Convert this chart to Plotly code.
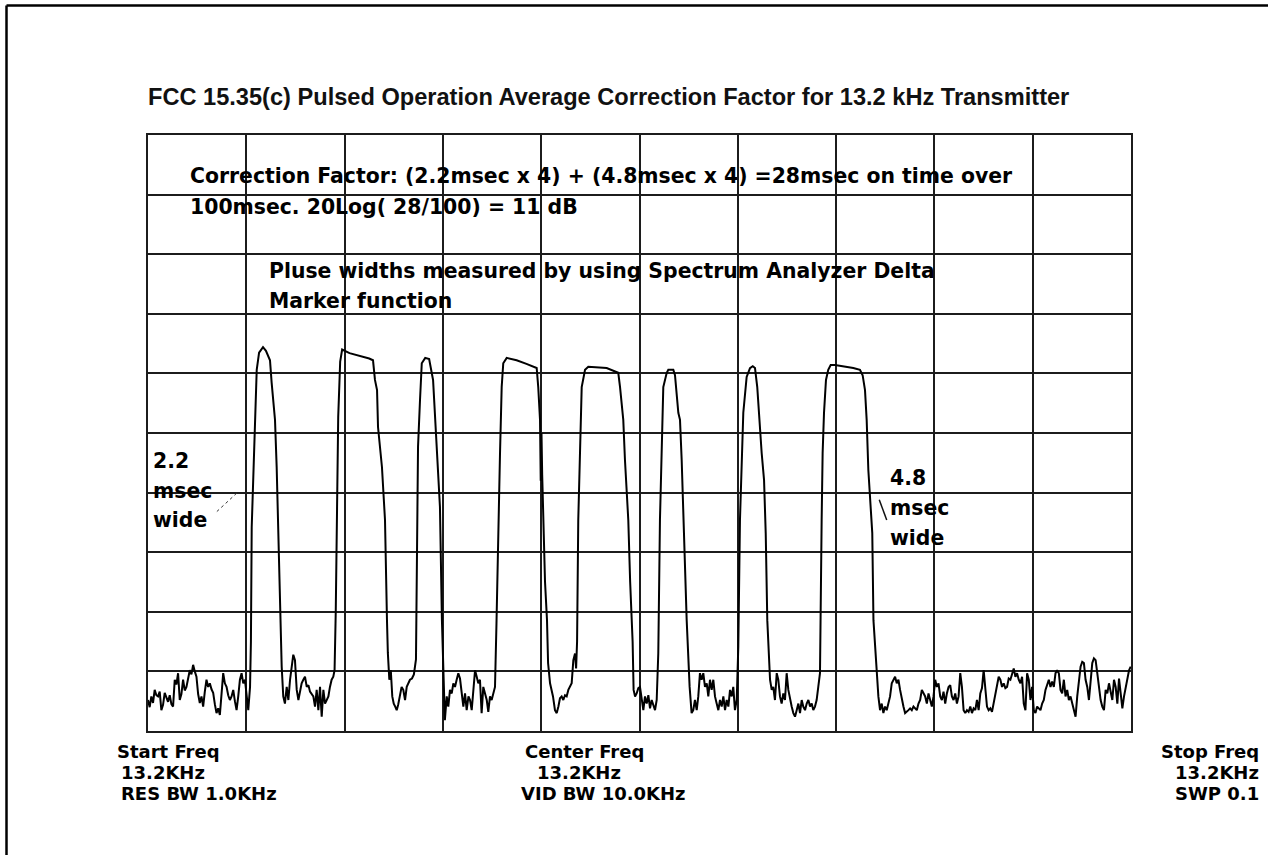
import plotly.graph_objects as go

# ---------------- data (x in msec over a 100 ms sweep, y in screen divisions) ----------------
noise_a_ms = [0.0, 0.17, 0.34, 0.51, 0.68, 0.85, 1.02, 1.19, 1.36, 1.53, 1.7, 1.87, 2.04, 2.21, 2.38, 2.55,
              2.72, 2.89, 3.06, 3.23, 3.4, 3.57, 3.74, 3.91, 4.08, 4.25, 4.42, 4.59, 4.76, 4.93, 5.1, 5.27,
              5.44, 5.61, 5.78, 5.95, 6.12, 6.29, 6.46, 6.63, 6.8, 6.97, 7.14, 7.31, 7.48, 7.65, 7.82, 7.99,
              8.16, 8.33, 8.5, 8.67, 8.84, 9.01, 9.18, 9.35, 9.52, 9.69, 9.86, 10.03, 10.2, 10.38]
noise_a_lvl = [0.52, 0.40, 0.58, 0.47, 0.69, 0.60, 0.58, 0.66, 0.35, 0.44, 0.64, 0.55, 0.49, 0.60, 0.45, 0.41,
               0.86, 0.78, 0.97, 0.52, 0.62, 0.86, 0.68, 0.74, 0.88, 1.02, 0.95, 1.11, 1.00, 0.91, 0.62, 0.47,
               0.58, 0.41, 0.66, 0.86, 0.74, 0.80, 0.70, 0.64, 0.45, 0.30, 0.38, 0.27, 0.62, 0.97, 0.80, 0.74,
               0.60, 0.52, 0.58, 0.69, 0.50, 0.35, 0.58, 0.86, 0.97, 0.80, 0.86, 0.62, 0.35, 0.74]

pulse1_ms = [10.47, 10.55, 10.88, 11.06, 11.3, 11.7, 12.0, 12.41, 12.58, 12.92, 13.09, 13.22, 13.43, 13.53]
pulse1_lvl = [1.50, 3.42, 5.34, 6.06, 6.35, 6.44, 6.38, 6.22, 5.84, 5.22, 4.43, 3.54, 1.86, 1.14]

noise_b_ms = [13.6, 13.76, 13.93, 14.11, 14.28, 14.45, 14.62, 14.78, 14.95, 15.13, 15.3, 15.46, 15.63, 15.8,
              15.97, 16.15, 16.32, 16.48, 16.65, 16.82, 16.99, 17.16, 17.33, 17.5, 17.67, 17.84, 18.01, 18.18,
              18.35, 18.51, 18.68, 18.85, 18.98]
noise_b_lvl = [1.08, 0.58, 0.46, 0.74, 0.52, 0.86, 1.14, 1.28, 1.19, 0.69, 0.52, 0.69, 0.80, 0.86,
               0.91, 0.74, 0.77, 0.66, 0.62, 0.58, 0.41, 0.69, 0.35, 0.74, 0.24, 0.69, 0.46, 0.52,
               0.58, 0.74, 0.86, 0.91, 1.02]

pulse2_ms = [19.1, 19.2, 19.35, 19.55, 19.75, 20.5, 21.5, 22.5, 22.89, 23.09, 23.3, 23.4, 23.8, 24.11, 24.31, 24.4]
pulse2_lvl = [2.00, 3.54, 5.27, 6.20, 6.40, 6.34, 6.30, 6.25, 6.22, 5.89, 5.72, 5.10, 4.43, 3.54, 1.86, 1.31]

noise_c_ms = [24.55, 24.7, 24.85, 25.0, 25.15, 25.3, 25.45, 25.6, 25.8, 25.97, 26.15, 26.32, 26.5, 26.65, 26.85, 27.05]
noise_c_lvl = [0.86, 1.02, 0.58, 0.46, 0.41, 0.35, 0.44, 0.58, 0.74, 0.69, 0.52, 0.74, 0.80, 0.86, 0.88, 0.95]

pulse3_ms = [27.26, 27.36, 27.47, 27.67, 27.85, 28.2, 28.6, 29.0, 29.2, 29.4, 29.7, 29.9, 30.05, 30.2]
pulse3_lvl = [1.20, 3.00, 4.77, 5.55, 6.17, 6.26, 6.24, 5.89, 5.22, 4.66, 3.76, 1.86, 0.90, 0.18]

noise_d_ms = [30.39, 30.55, 30.72, 30.9, 31.06, 31.23, 31.4, 31.57, 31.74, 31.9, 32.08, 32.25, 32.42, 32.6, 32.76,
              32.93, 33.09, 33.27, 33.44, 33.6, 33.77, 33.94, 34.11, 34.28, 34.46, 34.62, 34.79, 34.96, 35.13, 35.3]
noise_d_lvl = [0.58, 0.41, 0.69, 0.63, 0.80, 0.74, 0.86, 0.97, 0.88, 0.66, 0.41, 0.63, 0.35, 0.58, 0.52,
               0.35, 0.74, 1.02, 0.91, 0.80, 0.86, 0.30, 0.74, 0.63, 0.52, 0.32, 0.58, 0.52, 0.66, 0.74]

pulse4_ms = [35.45, 35.64, 35.81, 35.98, 36.14, 36.49, 37.5, 38.5, 39.54, 39.7, 39.88, 39.95, 40.03, 40.1,
             40.18, 40.39, 40.59, 40.7, 40.9, 41.2]
pulse4_lvl = [1.80, 3.54, 4.66, 5.77, 6.17, 6.26, 6.22, 6.16, 6.09, 5.77, 5.22, 4.20, 5.00, 4.30,
              3.76, 2.50, 1.86, 1.14, 0.80, 0.58]

noise_e_ms = [41.4, 41.58, 41.75, 41.91, 42.08, 42.25, 42.42, 42.59, 42.76, 42.93, 43.1, 43.27, 43.44, 43.55, 43.65]
noise_e_lvl = [0.35, 0.30, 0.41, 0.55, 0.58, 0.52, 0.60, 0.58, 0.69, 0.74, 0.80, 1.19, 1.30, 1.05, 1.50]

pulse5_ms = [43.77, 43.95, 44.12, 44.46, 44.79, 46.66, 47.84, 48.02, 48.35, 48.52, 48.86, 49.05, 49.2, 49.3, 49.4]
pulse5_lvl = [3.54, 4.66, 5.77, 6.06, 6.11, 6.09, 6.01, 5.77, 5.22, 4.55, 3.54, 2.50, 1.86, 1.50, 0.69]

noise_f_ms = [49.55, 49.71, 49.88, 50.05, 50.22, 50.39, 50.56, 50.73, 50.9, 51.07, 51.24, 51.4, 51.58, 51.75, 51.91]
noise_f_lvl = [0.58, 0.63, 0.72, 0.74, 0.52, 0.35, 0.58, 0.46, 0.60, 0.38, 0.52, 0.44, 0.35, 0.52, 1.30]

pulse6_ms = [52.08, 52.26, 52.42, 52.77, 52.93, 53.44, 53.61, 53.95, 54.12, 54.29, 54.46, 54.8, 55.1]
pulse6_lvl = [3.54, 4.66, 5.77, 6.01, 6.06, 6.06, 5.97, 5.34, 5.22, 4.55, 3.54, 1.86, 0.74]

noise_g_ms = [55.3, 55.47, 55.64, 55.82, 55.98, 56.15, 56.32, 56.49, 56.66, 56.84, 57.0, 57.17, 57.34, 57.51,
              57.68, 57.85, 58.02, 58.19, 58.36, 58.53, 58.7, 58.87, 59.04, 59.21, 59.38, 59.54, 59.71, 59.89, 60.05]
noise_g_lvl = [0.30, 0.35, 0.52, 0.35, 0.58, 0.97, 0.86, 0.97, 0.74, 0.80, 0.58, 0.86, 0.69, 0.86,
               0.58, 0.46, 0.35, 0.52, 0.41, 0.58, 0.35, 0.52, 0.41, 0.69, 0.58, 0.74, 0.35, 0.52, 1.41]

pulse7_ms = [60.22, 60.4, 60.56, 60.9, 61.24, 61.52, 61.75, 61.98, 62.19, 62.43, 62.67, 62.84, 63.0, 63.1, 63.28]
pulse7_lvl = [3.54, 4.66, 5.34, 5.94, 6.09, 6.12, 6.09, 5.77, 5.22, 4.66, 4.21, 3.32, 1.86, 1.48, 0.86]

noise_h_ms = [63.45, 63.61, 63.78, 63.96, 64.12, 64.29, 64.46, 64.63, 64.8, 64.97, 65.14, 65.31, 65.48, 65.65,
              65.82, 65.99, 66.16, 66.33, 66.5, 66.66, 66.84, 67.01, 67.18, 67.35, 67.52, 67.68, 67.85, 68.02,
              68.19, 68.36]
noise_h_lvl = [0.69, 0.74, 0.52, 0.97, 0.86, 0.58, 0.46, 0.63, 0.52, 0.97, 0.69, 0.52, 0.41, 0.30,
               0.24, 0.35, 0.46, 0.30, 0.52, 0.41, 0.35, 0.46, 0.52, 0.41, 0.46, 0.35, 0.41, 0.52,
               0.74, 0.97]

pulse8_ms = [68.53, 68.63, 68.77, 68.97, 69.2, 69.45, 69.89, 71.08, 71.75, 72.43, 72.7, 72.94, 73.11, 73.28,
             73.52, 73.68, 73.8, 73.95]
pulse8_lvl = [3.54, 4.66, 5.34, 5.89, 6.06, 6.14, 6.14, 6.11, 6.09, 6.06, 5.97, 5.72, 5.22, 4.38,
              3.71, 3.32, 1.86, 1.50]

noise_i_ms = [74.13, 74.30, 74.47, 74.64, 74.81, 74.98, 75.15, 75.32, 75.49, 75.66, 75.83, 76.00, 76.17, 76.34,
              76.51, 76.68, 76.85, 77.02, 77.19, 77.36, 77.53, 77.70, 77.87, 78.04, 78.21, 78.38, 78.55, 78.72,
              78.89, 79.06, 79.23, 79.40, 79.57, 79.74, 79.91, 80.08, 80.25, 80.42, 80.59, 80.76, 80.93, 81.10,
              81.27, 81.44, 81.61, 81.78, 81.95, 82.12, 82.29, 82.46, 82.63, 82.80, 82.97, 83.14, 83.31, 83.48,
              83.65, 83.82, 83.99, 84.16, 84.33, 84.50, 84.67, 84.84, 85.01, 85.18, 85.35, 85.52, 85.69, 85.86,
              86.03, 86.20, 86.37, 86.54, 86.71, 86.88, 87.05, 87.22, 87.39, 87.56, 87.73, 87.90, 88.07, 88.24,
              88.41, 88.58, 88.75, 88.92, 89.09, 89.26, 89.43, 89.60, 89.77, 89.94, 90.11, 90.28, 90.45, 90.62,
              90.79, 90.96, 91.13, 91.30, 91.47, 91.64, 91.81, 91.98, 92.15, 92.32, 92.49, 92.66, 92.83, 93.00,
              93.17, 93.34, 93.51, 93.68, 93.85, 94.02, 94.19, 94.36, 94.53, 94.70, 94.87, 95.04, 95.21, 95.38,
              95.55, 95.72, 95.89, 96.06, 96.23, 96.40, 96.57, 96.74, 96.91, 97.08, 97.25, 97.42, 97.59, 97.76,
              97.93, 98.10, 98.27, 98.44, 98.61, 98.78, 98.95, 99.12, 99.29, 99.46, 99.63, 99.80, 99.97]
noise_i_lvl = [0.97, 0.58, 0.35, 0.46, 0.30, 0.41, 0.35, 0.46, 0.58, 0.80,
               0.86, 0.91, 0.80, 0.86, 0.69, 0.52, 0.41, 0.30, 0.32, 0.35,
               0.38, 0.35, 0.41, 0.38, 0.35, 0.46, 0.52, 0.69, 0.63, 0.58,
               0.46, 0.63, 0.52, 0.41, 0.58, 0.86, 0.74, 0.80, 0.58, 0.52,
               0.66, 0.46, 0.63, 0.74, 0.77, 0.58, 0.52, 0.63, 0.46, 0.58,
               0.97, 0.74, 0.35, 0.30, 0.35, 0.32, 0.41, 0.30, 0.38, 0.35,
               0.52, 0.35, 0.63, 0.72, 1.02, 0.69, 0.41, 0.35, 0.38, 0.32,
               0.46, 0.63, 0.74, 0.91, 0.86, 0.74, 0.80, 0.72, 0.74, 0.88,
               0.86, 0.97, 1.05, 0.91, 0.97, 0.86, 0.80, 0.91, 0.46, 0.35,
               0.97, 0.86, 0.52, 0.74, 0.35, 0.30, 0.41, 0.38, 0.35, 0.46,
               0.52, 0.69, 0.80, 0.86, 0.74, 0.83, 0.74, 0.97, 1.02, 0.97,
               0.69, 0.63, 0.86, 0.58, 0.69, 0.52, 0.58, 0.46, 0.35, 0.24,
               0.58, 0.86, 1.08, 1.16, 1.14, 0.86, 0.74, 0.52, 0.91, 1.14,
               1.22, 1.19, 0.97, 0.74, 0.52, 0.41, 0.35, 0.69, 0.63, 0.80,
               0.66, 0.52, 0.86, 0.74, 0.46, 0.88, 0.63, 0.38, 0.58, 0.74,
               0.86, 1.02, 1.08]

segments_ms = [noise_a_ms, pulse1_ms, noise_b_ms, pulse2_ms, noise_c_ms, pulse3_ms, noise_d_ms, pulse4_ms,
               noise_e_ms, pulse5_ms, noise_f_ms, pulse6_ms, noise_g_ms, pulse7_ms, noise_h_ms, pulse8_ms,
               noise_i_ms]
segments_lvl = [noise_a_lvl, pulse1_lvl, noise_b_lvl, pulse2_lvl, noise_c_lvl, pulse3_lvl, noise_d_lvl, pulse4_lvl,
                noise_e_lvl, pulse5_lvl, noise_f_lvl, pulse6_lvl, noise_g_lvl, pulse7_lvl, noise_h_lvl, pulse8_lvl,
                noise_i_lvl]

trace_ms = [v for seg in segments_ms for v in seg]
trace_lvl = [v for seg in segments_lvl for v in seg]

title_text = "FCC 15.35(c) Pulsed Operation Average Correction Factor for 13.2 kHz Transmitter"
note_lines = ["Correction Factor: (2.2msec x 4) + (4.8msec x 4) =28msec on time over",
              "100msec. 20Log( 28/100) = 11 dB"]
method_lines = ["Pluse widths measured by using Spectrum Analyzer Delta", "Marker function"]
left_label = ["2.2", "msec", "wide"]
right_label = ["4.8", "msec", "wide"]
start_info = ["Start Freq", "13.2KHz", "RES BW 1.0KHz"]
center_info = ["Center Freq", "13.2KHz", "VID BW 10.0KHz"]
stop_info = ["Stop Freq", "13.2KHz", "SWP 0.1"]

# ---------------- layout geometry ----------------
W, H = 1268, 855
L, R, T, B = 148, 1131, 135, 731


def px(xp):
    return (xp - L) / (R - L)


def py(yp):
    return (B - yp) / (B - T)


fig = go.Figure()
fig.add_trace(go.Scatter(x=trace_ms, y=trace_lvl, mode="lines",
                         line=dict(color="#000000", width=2), hoverinfo="skip", showlegend=False))

GRID = "#1c1c1c"
axis_common = dict(showgrid=True, gridcolor=GRID, gridwidth=2, showticklabels=False, ticks="",
                   zeroline=False, showline=True, linecolor=GRID, linewidth=2, mirror=True, fixedrange=True)

fig.update_layout(
    width=W, height=H,
    margin=dict(l=L, r=W - R, t=T, b=H - B, pad=0),
    paper_bgcolor="white", plot_bgcolor="white",
    xaxis=dict(range=[0, 100], tick0=0, dtick=10, **axis_common),
    yaxis=dict(range=[0, 10], tick0=0, dtick=1, **axis_common),
    title=dict(text="<b>" + title_text + "</b>", x=L / W, xanchor="left", y=1 - 97 / H, yanchor="middle",
               xref="container", yref="container",
               font=dict(family="Liberation Sans, Arial, sans-serif", size=23.6, color="#111111")),
    showlegend=False,
)

GRID_FONT = dict(family="DejaVu Sans, Verdana, sans-serif", size=20.4, color="#000000")
BOT_FONT = dict(family="DejaVu Sans, Verdana, sans-serif", size=18, color="#000000")


def note(text, xp, yp, font, anchor="left"):
    fig.add_annotation(text="<b>" + text + "</b>", x=px(xp), y=py(yp), xref="paper", yref="paper",
                       xanchor=anchor, yanchor="middle", showarrow=False, font=font, borderpad=0)


note(note_lines[0], 189, 176, GRID_FONT)
note(note_lines[1], 189, 207, GRID_FONT)
note(method_lines[0], 268, 271, GRID_FONT)
note(method_lines[1], 268, 301, GRID_FONT)
for i, t in enumerate(left_label):
    note(t, 152, 461 + 29.5 * i, GRID_FONT)
for i, t in enumerate(right_label):
    note(t, 889, 478 + 30 * i, GRID_FONT)

note(start_info[0], 116, 751, BOT_FONT)
note(start_info[1], 120, 772, BOT_FONT)
note(start_info[2], 120, 793, BOT_FONT)
note(center_info[0], 524, 751, BOT_FONT)
note(center_info[1], 536, 772, BOT_FONT)
note(center_info[2], 520, 793, BOT_FONT)
note(stop_info[0], 1260, 751, BOT_FONT, anchor="right")
note(stop_info[1], 1260, 772, BOT_FONT, anchor="right")
note(stop_info[2], 1260, 793, BOT_FONT, anchor="right")

# leader ticks next to the width labels
fig.add_shape(type="line", xref="x", yref="y", x0=9.02, y0=3.99, x1=6.99, y1=3.68,
              line=dict(color="#333333", width=1, dash="dot"))
fig.add_shape(type="line", xref="x", yref="y", x0=74.39, y0=3.88, x1=75.15, y1=3.54,
              line=dict(color="#111111", width=1.5))

# page frame (left and top edges)
fig.add_shape(type="line", xref="paper", yref="paper", x0=px(6.5), y0=py(5.5), x1=px(6.5), y1=py(860),
              line=dict(color="#000000", width=2.5))
fig.add_shape(type="line", xref="paper", yref="paper", x0=px(6.5), y0=py(5.5), x1=px(1272), y1=py(5.5),
              line=dict(color="#000000", width=2.5))

fig.write_html("out.html", config={"displayModeBar": False},
               post_script="document.body.style.margin='0';document.body.style.overflow='hidden';")
